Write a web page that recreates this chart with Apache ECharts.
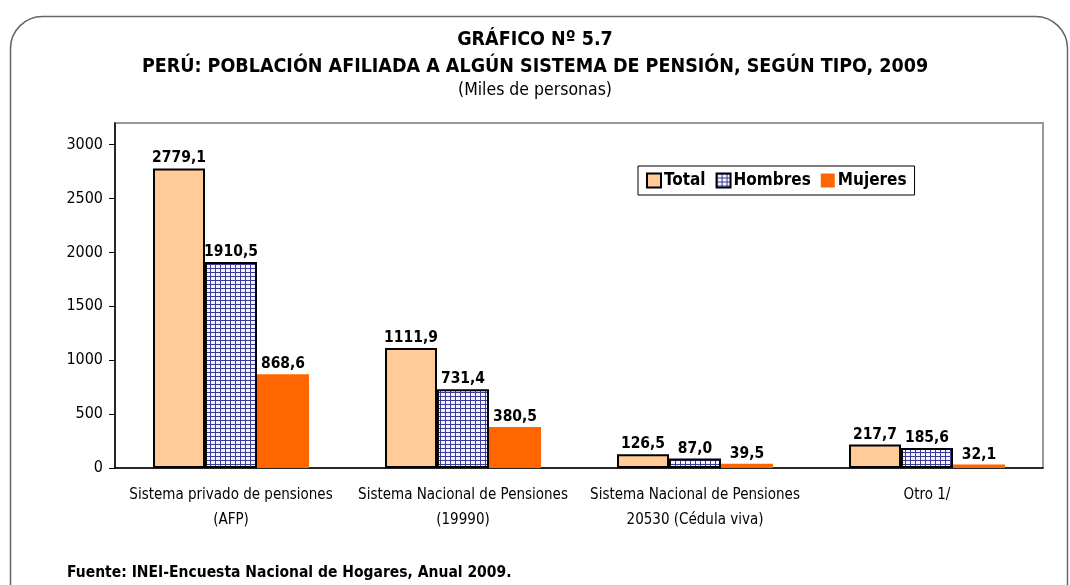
<!DOCTYPE html>
<html>
<head>
<meta charset="utf-8">
<script src="https://cdn.jsdelivr.net/npm/echarts@6/dist/echarts.min.js"></script>
<style>
html,body{margin:0;padding:0;background:#fff;}
#chart{width:1070px;height:585px;}
</style>
</head>
<body>
<div id="chart"></div>
<script>
const categories = ['Sistema privado de pensiones\n(AFP)', 'Sistema Nacional de Pensiones\n(19990)', 'Sistema Nacional de Pensiones\n20530 (Cédula viva)', 'Otro 1/'];
const seriesNames = ['Total', 'Hombres', 'Mujeres'];
const totalValues = [2779.1, 1111.9, 126.5, 217.7];
const hombresValues = [1910.5, 731.4, 87.0, 185.6];
const mujeresValues = [868.6, 380.5, 39.5, 32.1];
const yTicks = [0, 500, 1000, 1500, 2000, 2500, 3000];
const titleLines = ['GRÁFICO Nº 5.7', 'PERÚ: POBLACIÓN AFILIADA A ALGÚN SISTEMA DE PENSIÓN, SEGÚN TIPO, 2009'];
const subtitleText = '(Miles de personas)';
const sourceText = 'Fuente: INEI-Encuesta Nacional de Hogares, Anual 2009.';

const FONT = '"Liberation Sans Narrow", "Arial Narrow", "DejaVu Sans Condensed", sans-serif';

// hatch pattern for Hombres
const pc = document.createElement('canvas');
pc.width = 5; pc.height = 4;
const ctx = pc.getContext('2d');
ctx.fillStyle = '#f4f4ff';
ctx.fillRect(0, 0, 5, 4);
ctx.fillStyle = '#3a3a99';
ctx.fillRect(0, 0, 1, 4);
ctx.fillRect(0, 0, 5, 1);
const hatch = { image: pc, repeat: 'repeat' };

const fmt = p => p.value.toFixed(1).replace('.', ',');
const labelCfg = {
  show: true, position: 'top', distance: 2,
  formatter: fmt, color: '#000', fontFamily: FONT, fontSize: 15.5, fontWeight: 'bold'
};

const chart = echarts.init(document.getElementById('chart'), null, { renderer: 'canvas' });
chart.setOption({
  animation: false,
  backgroundColor: '#fff',
  textStyle: { fontFamily: FONT },
  title: [
    { text: titleLines.join('\n'), left: 'center', top: 21,
      textStyle: { fontFamily: FONT, fontSize: 19.5, fontWeight: 'bold', color: '#000', lineHeight: 27 } },
    { text: subtitleText, left: 'center', top: 76,
      textStyle: { fontFamily: FONT, fontSize: 17.5, fontWeight: 'normal', color: '#000' } },
    { text: sourceText, left: 62, top: 560,
      textStyle: { fontFamily: FONT, fontSize: 15.5, fontWeight: 'bold', color: '#000' } }
  ],
  graphic: [
    { type: 'rect', left: 8, top: 14, z: -10,
      shape: { width: 1057, height: 640, r: 32 },
      style: { fill: 'none', stroke: '#666', lineWidth: 1.5 } }
  ],
  legend: {
    data: seriesNames, left: 638, top: 166,
    borderColor: '#000', borderWidth: 1, padding: [6, 8, 6, 8],
    icon: 'rect', itemWidth: 14, itemHeight: 14, itemGap: 10,
    textStyle: { fontFamily: FONT, fontSize: 17, fontWeight: 'bold', color: '#000', padding: [0, 0, 0, -2] }
  },
  grid: { left: 115, right: 27, top: 123, bottom: 117, show: true, borderColor: '#999', borderWidth: 2 },
  xAxis: {
    type: 'category', data: categories,
    axisLine: { lineStyle: { color: '#000', width: 1.5 } },
    axisTick: { length: 6, lineStyle: { color: '#000' } },
    axisLabel: { color: '#000', fontFamily: FONT, fontSize: 15, lineHeight: 25, margin: 15, interval: 0 }
  },
  yAxis: {
    type: 'value', min: 0, max: 3200, interval: 500,
    splitLine: { show: false },
    axisLine: { show: true, lineStyle: { color: '#000', width: 1.5 } },
    axisTick: { show: true, length: 6, lineStyle: { color: '#000' }, customValues: yTicks },
    axisLabel: { color: '#000', fontFamily: FONT, fontSize: 16, margin: 12, customValues: yTicks,
      formatter: v => String(v) }
  },
  series: [
    { name: 'Total', type: 'bar', data: totalValues, barWidth: 52, barGap: '0%',
      itemStyle: { color: '#FFCC99', borderColor: '#000', borderWidth: 2 }, label: labelCfg },
    { name: 'Hombres', type: 'bar', data: hombresValues, barWidth: 52, barGap: '0%',
      itemStyle: { color: hatch, borderColor: '#000', borderWidth: 2 }, label: labelCfg },
    { name: 'Mujeres', type: 'bar', data: mujeresValues, barWidth: 52, barGap: '0%',
      itemStyle: { color: '#FF6600' }, label: labelCfg }
  ]
});
</script>
</body>
</html>
